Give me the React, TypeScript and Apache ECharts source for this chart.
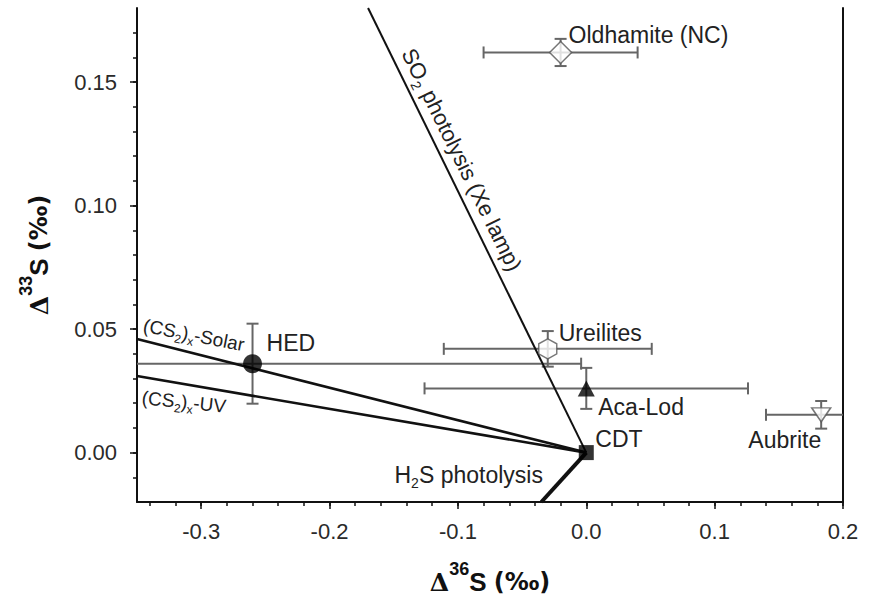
import React, { useEffect, useRef } from "react";
import * as echarts from "echarts";

// ---------- axis ranges & ticks ----------
const X_MIN = -0.35;
const X_MAX = 0.2;
const Y_MIN = -0.02;
const Y_MAX = 0.18;
const xMajorTicks = [-0.3, -0.2, -0.1, 0.0, 0.1, 0.2];
const xMinorTicks = [
  -0.34, -0.32, -0.3, -0.28, -0.26, -0.24, -0.22, -0.2, -0.18, -0.16, -0.14, -0.12, -0.1, -0.08,
  -0.06, -0.04, -0.02, 0.0, 0.02, 0.04, 0.06, 0.08, 0.1, 0.12, 0.14, 0.16, 0.18, 0.2,
];
const yMajorTicks = [0.0, 0.05, 0.1, 0.15];
const yMinorTicks = [
  -0.01, 0.0, 0.01, 0.02, 0.03, 0.04, 0.05, 0.06, 0.07, 0.08, 0.09, 0.1, 0.11, 0.12, 0.13, 0.14,
  0.15, 0.16, 0.17,
];

// ---------- samples ----------
const sampleNames = ["Oldhamite (NC)", "Ureilites", "HED", "Aca-Lod", "Aubrite", "CDT"];
const sampleD36 = [-0.02, -0.03, -0.26, 0.0, 0.183, 0.0];
const sampleD33 = [0.162, 0.042, 0.036, 0.026, 0.0153, 0.0];
const sampleD36Err = [0.06, 0.081, 0.256, 0.126, 0.043, 0];
const sampleD33Err = [0.0055, 0.0072, 0.0162, 0.0083, 0.0056, 0];

// ---------- reference lines ----------
const so2LineD36 = [0.0, -0.17];
const so2LineD33 = [0.0, 0.18];
const h2sLineD36 = [0.0, -0.035];
const h2sLineD33 = [0.0, -0.02];
const cs2SolarD36 = [0.0, -0.35];
const cs2SolarD33 = [0.0, 0.046];
const cs2UvD36 = [0.0, -0.35];
const cs2UvD33 = [0.0, 0.031];

// ---------- styles ----------
const FONT = "'Liberation Sans', Arial, sans-serif";
const INK = "#111";
const TXT = "#222";
const ERR = "#666";

const markerStyles: Record<string, any> = {
  "Oldhamite (NC)": { symbol: "diamond", symbolSize: [22, 22], itemStyle: { color: "#fff", borderColor: "#555", borderWidth: 1.5 } },
  Ureilites: {
    symbol: "path://M0,-1L0.866,-0.5L0.866,0.5L0,1L-0.866,0.5L-0.866,-0.5Z",
    symbolSize: [18, 20],
    itemStyle: { color: "#fff", borderColor: "#555", borderWidth: 1.5 },
  },
  HED: { symbol: "circle", symbolSize: 19, itemStyle: { color: "#000" } },
  "Aca-Lod": { symbol: "triangle", symbolSize: [17, 16], itemStyle: { color: "#000" } },
  Aubrite: { symbol: "triangle", symbolSize: [19, 14], symbolRotate: 180, itemStyle: { color: "#fff", borderColor: "#555", borderWidth: 1.5 } },
  CDT: { symbol: "rect", symbolSize: 15, itemStyle: { color: "#000" } },
};

// label layout (pixel offsets from each sample point)
const pointLabelLayout: Record<string, { dx: number; dy: number; align: string }> = {
  "Oldhamite (NC)": { dx: 8, dy: -17, align: "left" },
  Ureilites: { dx: 11, dy: -16, align: "left" },
  HED: { dx: 14, dy: -21, align: "left" },
  "Aca-Lod": { dx: 12, dy: 19, align: "left" },
  Aubrite: { dx: 0, dy: 25, align: "right" },
  CDT: { dx: 9, dy: -14, align: "left" },
};

const subRich = {
  s: { fontSize: 14, lineHeight: 14, verticalAlign: "bottom", fontFamily: FONT, fill: TXT },
};
const subRichSmall = {
  s: { fontSize: 12, lineHeight: 12, verticalAlign: "bottom", fontFamily: FONT, fill: TXT },
};

const TITLE_RICH = {
  d: { fontFamily: "'DejaVu Serif', serif", fontWeight: "bold", fontSize: 25, lineHeight: 44, color: INK },
  sup: { fontFamily: FONT, fontWeight: "bold", fontSize: 18, lineHeight: 18, verticalAlign: "top", color: INK },
  t: { fontFamily: FONT, fontWeight: "bold", fontSize: 26, lineHeight: 44, color: INK },
  p: { fontFamily: "'DejaVu Sans', sans-serif", fontWeight: "bold", fontSize: 24, lineHeight: 44, color: INK },
};

function App() {
  const ref = useRef<HTMLDivElement>(null);

  useEffect(() => {
    document.body.style.margin = "0";
    const chart = echarts.init(ref.current!, null, { renderer: "svg" });

    const errData = sampleNames.map((_, i) => [sampleD36[i], sampleD33[i], sampleD36Err[i], sampleD33Err[i]]);
    const pointData = sampleNames.map((n, i) => ({ name: n, value: [sampleD36[i], sampleD33[i]], ...markerStyles[n] }));
    const pairs = (xs: number[], ys: number[]) => xs.map((x, i) => [x, ys[i]]);

    const tickLabel = { fontFamily: FONT, fontSize: 22, color: "#2a2a2a" };

    chart.setOption({
      animation: false,
      backgroundColor: "#fff",
      grid: { left: 137, right: 31, top: 8, bottom: 104, containLabel: false, outerBoundsMode: "none" },
      xAxis: [
        {
          type: "value", min: X_MIN, max: X_MAX, position: "bottom",
          axisLine: { show: true, onZero: false, lineStyle: { color: INK, width: 2 } },
          axisTick: { show: true, customValues: xMinorTicks, length: 4, lineStyle: { color: INK, width: 1.5 } },
          axisLabel: { show: false },
          splitLine: { show: false },
        },
        {
          type: "value", min: X_MIN, max: X_MAX, position: "bottom",
          axisLine: { show: false, onZero: false },
          axisTick: { show: true, customValues: xMajorTicks, length: 7, lineStyle: { color: INK, width: 1.5 } },
          axisLabel: { show: true, customValues: xMajorTicks, margin: 18, formatter: (v: number) => v.toFixed(1), ...tickLabel },
          splitLine: { show: false },
          name: "{d|Δ}{sup|36}{t|S }{p|(‰)}",
          nameLocation: "middle",
          nameGap: 58,
          nameTextStyle: { rich: TITLE_RICH },
        },
      ],
      yAxis: [
        {
          type: "value", min: Y_MIN, max: Y_MAX, position: "left",
          axisLine: { show: true, onZero: false, lineStyle: { color: INK, width: 2 } },
          axisTick: { show: true, customValues: yMinorTicks, length: 4, lineStyle: { color: INK, width: 1.5 } },
          axisLabel: { show: false },
          splitLine: { show: false },
        },
        {
          type: "value", min: Y_MIN, max: Y_MAX, position: "left",
          axisLine: { show: false, onZero: false },
          axisTick: { show: true, customValues: yMajorTicks, length: 7, lineStyle: { color: INK, width: 1.5 } },
          axisLabel: { show: true, customValues: yMajorTicks, margin: 20, formatter: (v: number) => v.toFixed(2), ...tickLabel },
          splitLine: { show: false },
          name: "{d|Δ}{sup|33}{t|S }{p|(‰)}",
          nameLocation: "middle",
          nameRotate: 90,
          nameGap: 76,
          nameTextStyle: { rich: TITLE_RICH },
        },
        {
          type: "value", min: Y_MIN, max: Y_MAX, position: "right",
          axisLine: { show: true, onZero: false, lineStyle: { color: INK, width: 2 } },
          axisTick: { show: false },
          axisLabel: { show: false },
          splitLine: { show: false },
        },
      ],
      series: [
        {
          type: "custom",
          name: "errors",
          clip: true,
          z: 2,
          data: errData,
          renderItem: (params: any, api: any) => {
            const x = api.value(0), y = api.value(1), ex = api.value(2), ey = api.value(3);
            const cap = 6;
            const style = { stroke: ERR, lineWidth: 2 };
            const ch: any[] = [];
            if (ex > 0) {
              const a = api.coord([x - ex, y]);
              const b = api.coord([x + ex, y]);
              ch.push({ type: "line", shape: { x1: a[0], y1: a[1], x2: b[0], y2: b[1] }, style });
              ch.push({ type: "line", shape: { x1: a[0], y1: a[1] - cap, x2: a[0], y2: a[1] + cap }, style });
              ch.push({ type: "line", shape: { x1: b[0], y1: b[1] - cap, x2: b[0], y2: b[1] + cap }, style });
            }
            if (ey > 0) {
              const a = api.coord([x, y - ey]);
              const b = api.coord([x, y + ey]);
              ch.push({ type: "line", shape: { x1: a[0], y1: a[1], x2: b[0], y2: b[1] }, style });
              ch.push({ type: "line", shape: { x1: a[0] - cap, y1: a[1], x2: a[0] + cap, y2: a[1] }, style });
              ch.push({ type: "line", shape: { x1: b[0] - cap, y1: b[1], x2: b[0] + cap, y2: b[1] }, style });
            }
            return { type: "group", children: ch };
          },
        },
        { type: "line", name: "SO2", data: pairs(so2LineD36, so2LineD33), symbol: "none", z: 3, lineStyle: { color: INK, width: 2 } },
        { type: "line", name: "H2S", data: pairs(h2sLineD36, h2sLineD33), symbol: "none", z: 3, lineStyle: { color: INK, width: 4 } },
        { type: "line", name: "CS2 solar", data: pairs(cs2SolarD36, cs2SolarD33), symbol: "none", z: 3, lineStyle: { color: INK, width: 2.6 } },
        { type: "line", name: "CS2 UV", data: pairs(cs2UvD36, cs2UvD33), symbol: "none", z: 3, lineStyle: { color: INK, width: 2.6 } },
        { type: "scatter", name: "samples", data: pointData, z: 4 },
      ],
    });

    const px = (x: number, y: number) => chart.convertToPixel({ xAxisIndex: 0, yAxisIndex: 0 }, [x, y]) as number[];

    const graphics: any[] = [];
    sampleNames.forEach((n, i) => {
      const p = px(sampleD36[i], sampleD33[i]);
      const L = pointLabelLayout[n];
      graphics.push({
        type: "text", x: p[0] + L.dx, y: p[1] + L.dy, z: 10,
        style: { text: n, fontFamily: FONT, fontSize: 23, fill: TXT, align: L.align, verticalAlign: "middle" },
      });
    });

    // SO2 photolysis label along its line
    const s0 = px(so2LineD36[0], so2LineD33[0]);
    const s1 = px(so2LineD36[1], so2LineD33[1]);
    const so2Angle = Math.atan2(s0[1] - s1[1], s0[0] - s1[0]);
    const so2Pos = px(-0.097, 0.1185);
    graphics.push({
      type: "text", x: so2Pos[0], y: so2Pos[1], rotation: -so2Angle, z: 10,
      style: { text: "SO{s|2} photolysis (Xe lamp)", fontFamily: FONT, fontSize: 22, lineHeight: 30, fill: TXT, align: "center", verticalAlign: "middle", rich: subRich },
    });
    const solarPos = px(-0.3057, 0.0476);
    graphics.push({
      type: "text", x: solarPos[0], y: solarPos[1], rotation: (-11 * Math.PI) / 180, z: 10,
      style: { text: "(CS{s|2}){s|x}-Solar", fontFamily: FONT, fontSize: 19, lineHeight: 26, fill: TXT, align: "center", verticalAlign: "middle", rich: subRichSmall },
    });
    const uvPos = px(-0.3134, 0.0205);
    graphics.push({
      type: "text", x: uvPos[0], y: uvPos[1], rotation: (-6 * Math.PI) / 180, z: 10,
      style: { text: "(CS{s|2}){s|x}-UV", fontFamily: FONT, fontSize: 19, lineHeight: 26, fill: TXT, align: "center", verticalAlign: "middle", rich: subRichSmall },
    });
    const h2sPos = px(-0.0916, -0.0091);
    graphics.push({
      type: "text", x: h2sPos[0], y: h2sPos[1], z: 10,
      style: { text: "H{s|2}S photolysis", fontFamily: FONT, fontSize: 23, lineHeight: 30, fill: TXT, align: "center", verticalAlign: "middle", rich: subRich },
    });

    chart.setOption({ graphic: graphics });

    return () => chart.dispose();
  }, []);

  return <div ref={ref} style={{ width: 874, height: 606 }} />;
}

export default App;
